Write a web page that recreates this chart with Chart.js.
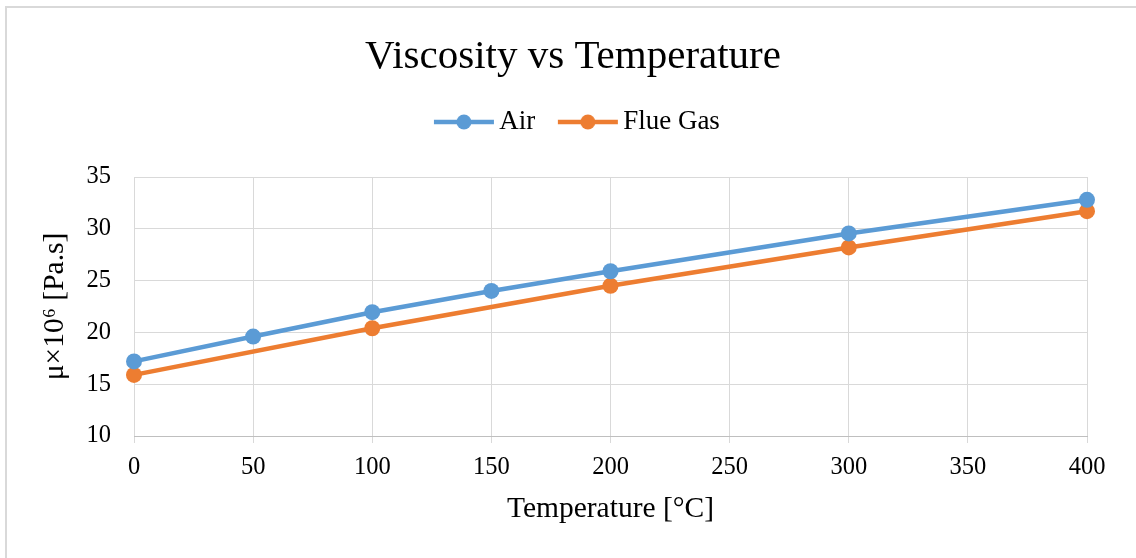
<!DOCTYPE html>
<html>
<head>
<meta charset="utf-8">
<script src="https://cdn.jsdelivr.net/npm/chart.js@4.4.1/dist/chart.umd.min.js"></script>
<style>
  html, body { margin: 0; padding: 0; background: #ffffff; }
  #frame { position: absolute; left: 5px; top: 6px; width: 1140px; height: 560px; border: 2px solid #d9d9d9; box-sizing: border-box; }
  #wrap { position: absolute; left: 0; top: 0; width: 1136px; height: 558px; }
</style>
</head>
<body>
<div id="frame"></div>
<div id="wrap"><canvas id="c" width="1136" height="558"></canvas></div>
<script>
const airTemps = [0, 50, 100, 150, 200, 300, 400];
const airValues = [17.2, 19.6, 21.95, 24.0, 25.9, 29.55, 32.8];
const flueTemps = [0, 100, 200, 300, 400];
const flueValues = [15.9, 20.4, 24.5, 28.2, 31.7];
const xTicks = [0, 50, 100, 150, 200, 250, 300, 350, 400];
const yTicks = [10, 15, 20, 25, 30, 35];

const BLUE = '#5B9BD5';
const ORANGE = '#ED7D31';
const FONT = "'Liberation Serif', 'Times New Roman', serif";

function legendIcon(color) {
  const shift = 8;
  const c = document.createElement('canvas');
  c.width = 82; c.height = 20;
  const g = c.getContext('2d');
  const cx = c.width / 2 + shift;
  g.strokeStyle = color; g.lineWidth = 4.5; g.lineCap = 'butt';
  g.beginPath(); g.moveTo(cx - 30, 10); g.lineTo(cx + 30, 10); g.stroke();
  g.fillStyle = color;
  g.beginPath(); g.arc(cx, 10, 7.5, 0, Math.PI * 2); g.fill();
  return c;
}
const icons = [legendIcon(BLUE), legendIcon(ORANGE)];

const toPts = (xs, ys) => xs.map((x, i) => ({x: x, y: ys[i]}));

new Chart(document.getElementById('c'), {
  type: 'line',
  data: {
    datasets: [
      { label: 'Air', data: toPts(airTemps, airValues), borderColor: BLUE, backgroundColor: BLUE,
        borderWidth: 4.5, pointRadius: 8, pointHoverRadius: 8, pointBorderWidth: 0, tension: 0, clip: false },
      { label: 'Flue Gas', data: toPts(flueTemps, flueValues), borderColor: ORANGE, backgroundColor: ORANGE,
        borderWidth: 4.5, pointRadius: 8, pointHoverRadius: 8, pointBorderWidth: 0, tension: 0, clip: false }
    ]
  },
  options: {
    responsive: false,
    animation: false,
    layout: { padding: { left: 59, right: 49, top: 0, bottom: 0 } },
    plugins: {
      tooltip: { enabled: false },
      title: {
        display: true, text: 'Viscosity vs Temperature', color: '#000000',
        font: { family: FONT, size: 41, weight: 'normal', lineHeight: 1.2 },
        padding: { top: 33, bottom: 11.3 }
      },
      legend: {
        display: true, position: 'top',
        labels: {
          color: '#000000', font: { family: FONT, size: 27 },
          usePointStyle: true, pointStyleWidth: 59.5, padding: 15,
          generateLabels: (chart) => {
            const items = Chart.defaults.plugins.legend.labels.generateLabels(chart);
            items.forEach((it, i) => { it.pointStyle = icons[i]; });
            return items;
          }
        }
      }
    },
    scales: {
      x: {
        type: 'linear', min: 0, max: 400,
        afterBuildTicks: (s) => { s.ticks = xTicks.map(v => ({value: v})); },
        afterFit: (s) => { s.height = 122; },
        grid: { color: '#d9d9d9', lineWidth: 1, drawTicks: true, tickLength: 7, tickColor: '#d9d9d9' },
        border: { color: '#bfbfbf', width: 1 },
        ticks: { color: '#000000', font: { family: FONT, size: 24.5 }, padding: 10, maxRotation: 0 },
        title: { display: true, text: 'Temperature [°C]', color: '#000000',
          font: { family: FONT, size: 29.5, lineHeight: 1.2 }, padding: { top: 0, bottom: 31 } }
      },
      xTop: {
        type: 'linear', axis: 'x', position: 'top', display: true,
        grid: { display: false }, border: { display: false },
        ticks: { display: false }, title: { display: false },
        afterFit: (s) => { s.height = 31.5; }
      },
      y: {
        type: 'linear', min: 10, max: 35,
        afterBuildTicks: (s) => { s.ticks = yTicks.map(v => ({value: v})); },
        afterFit: (s) => { s.width = 75; },
        grid: { color: '#d9d9d9', lineWidth: 1, drawTicks: false },
        border: { display: false },
        ticks: { color: '#000000', font: { family: FONT, size: 24.5 }, padding: 23 },
        title: { display: true, text: 'μ×10⁶ [Pa.s]', color: '#000000',
          font: { family: FONT, size: 29.5, lineHeight: 1.2 }, padding: { top: -21, bottom: 0 } }
      }
    }
  }
});
</script>
</body>
</html>
